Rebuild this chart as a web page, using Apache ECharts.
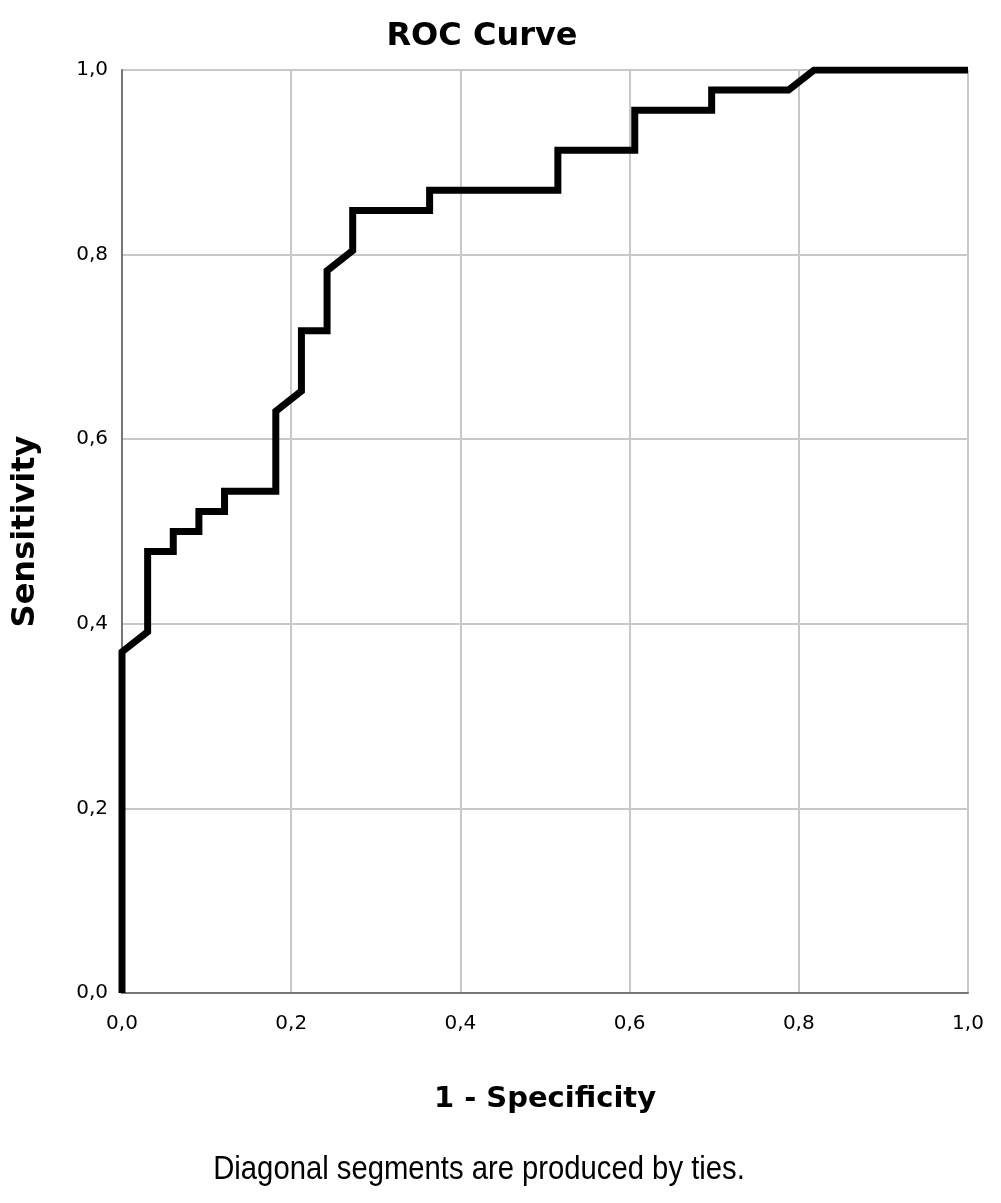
<!DOCTYPE html>
<html>
<head>
<meta charset="utf-8">
<script src="https://cdn.jsdelivr.net/npm/echarts@6/dist/echarts.min.js"></script>
<style>html,body{margin:0;padding:0;background:#fff;}#c{width:1001px;height:1203px;}</style>
</head>
<body>
<div id="c"></div>
<script>
// 1 - Specificity (x) and Sensitivity (y) for each vertex of the ROC curve
var fpr = [0, 0, 0.0303, 0.0303, 0.0606, 0.0606, 0.0909, 0.0909, 0.1212, 0.1212, 0.1818, 0.1818, 0.2121, 0.2121, 0.2424, 0.2424, 0.2727, 0.2727, 0.3636, 0.3636, 0.5152, 0.5152, 0.6061, 0.6061, 0.6970, 0.6970, 0.7879, 0.8182, 1];
var tpr = [0, 0.3696, 0.3913, 0.4783, 0.4783, 0.5, 0.5, 0.5217, 0.5217, 0.5435, 0.5435, 0.6304, 0.6522, 0.7174, 0.7174, 0.7826, 0.8043, 0.8478, 0.8478, 0.8696, 0.8696, 0.9130, 0.9130, 0.9565, 0.9565, 0.9783, 0.9783, 1, 1];
var tickLabels = ['0,0', '0,2', '0,4', '0,6', '0,8', '1,0'];
var titleText = 'ROC Curve';
var xName = '1 - Specificity';
var yName = 'Sensitivity';
var footnote = 'Diagonal segments are produced by ties.';

var points = fpr.map(function (x, i) { return [x, tpr[i]]; });
function fmt(v) { return tickLabels[Math.round(v / 0.2)]; }

var chart = echarts.init(document.getElementById('c'), null, { renderer: 'canvas' });
chart.setOption({
  backgroundColor: '#ffffff',
  animation: false,
  title: [
    { text: titleText, left: 477, top: 16, textAlign: 'center',
      textStyle: { fontFamily: 'DejaVu Sans', fontWeight: 'bold', fontSize: 32, color: '#000' } }
  ],
  graphic: [
    { type: 'text', x: 479, y: 1170, scaleX: 0.86, originX: 0, originY: 0,
      style: { text: footnote, fontFamily: '"Liberation Sans"', fontSize: 34, fill: '#000',
               textAlign: 'center', textVerticalAlign: 'middle', verticalAlign: 'middle', align: 'center' } }
  ],
  grid: { left: 122, right: 33, top: 70, bottom: 210, containLabel: false },
  xAxis: {
    type: 'value', min: 0, max: 1, interval: 0.2,
    name: xName, nameLocation: 'middle', nameGap: 92,
    nameTextStyle: { fontFamily: 'DejaVu Sans', fontWeight: 'bold', fontSize: 29, color: '#000' },
    axisLine: { show: true, lineStyle: { color: '#777777', width: 2 } },
    axisTick: { show: false },
    axisLabel: { formatter: fmt, margin: 21, fontFamily: 'DejaVu Sans', fontSize: 20, color: '#000' },
    splitLine: { show: true, lineStyle: { color: '#c8c8c8', width: 2 } }
  },
  yAxis: {
    type: 'value', min: 0, max: 1, interval: 0.2,
    name: yName, nameLocation: 'middle', nameGap: 80, nameRotate: 90,
    nameTextStyle: { fontFamily: 'DejaVu Sans', fontWeight: 'bold', fontSize: 32, color: '#000' },
    axisLine: { show: true, lineStyle: { color: '#777777', width: 2 } },
    axisTick: { show: false },
    axisLabel: { formatter: fmt, margin: 14, fontFamily: 'DejaVu Sans', fontSize: 20, color: '#000' },
    splitLine: { show: true, lineStyle: { color: '#c8c8c8', width: 2 } }
  },
  series: [{
    type: 'line',
    data: points,
    showSymbol: false,
    symbol: 'none',
    lineStyle: { color: '#000000', width: 7, join: 'miter', cap: 'butt' },
    z: 5
  }]
});
</script>
</body>
</html>
